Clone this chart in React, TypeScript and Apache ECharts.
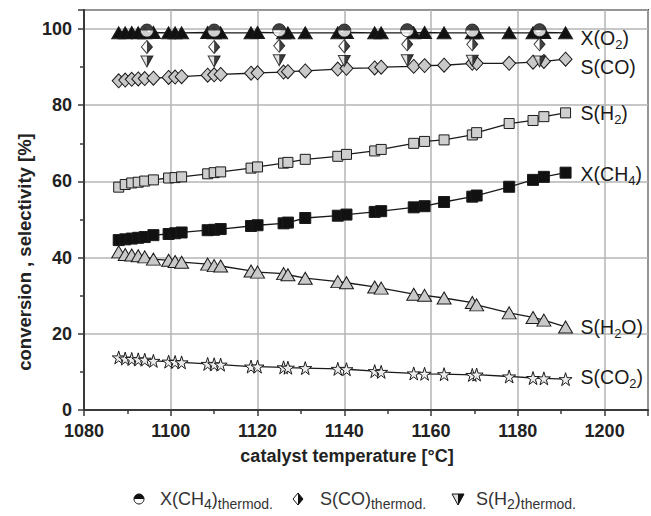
import React, { useEffect, useRef } from "react";
import * as echarts from "echarts";

const FONT = "'Liberation Sans', Arial, Helvetica, sans-serif";

const temps = [1088, 1089.5, 1091, 1092.5, 1094, 1096, 1099.5, 1101, 1102.5, 1108.5, 1110, 1111.5, 1118.5, 1120, 1126, 1127, 1131, 1138.5, 1140.5, 1147, 1148.5, 1156, 1158.5, 1163, 1169.5, 1170.5, 1178, 1183.5, 1186, 1191];

const xO2 = [99.0, 99.0, 99.1, 99.0, 99.0, 99.1, 99.0, 99.0, 99.0, 99.1, 99.0, 99.0, 99.0, 99.1, 99.0, 99.0, 99.0, 99.0, 99.1, 99.0, 99.0, 99.0, 99.1, 99.0, 99.0, 99.0, 99.0, 99.0, 99.1, 99.0];
const sCO = [86.4, 86.6, 86.8, 86.9, 87.0, 87.1, 87.3, 87.4, 87.5, 87.9, 88.0, 88.1, 88.4, 88.5, 88.7, 88.8, 89.0, 89.5, 89.7, 89.8, 90.0, 90.2, 90.4, 90.5, 91.0, 91.0, 91.0, 91.3, 91.5, 92.1];
const sH2 = [58.5, 59.2, 59.6, 59.8, 60.1, 60.4, 60.9, 61.0, 61.2, 62.0, 62.3, 62.5, 63.5, 63.8, 64.8, 65.0, 65.8, 66.6, 67.1, 68.0, 68.4, 70.0, 70.5, 70.9, 72.2, 72.8, 75.2, 76.0, 77.0, 78.0];
const xCH4 = [44.6, 44.8, 45.0, 45.2, 45.4, 45.9, 46.2, 46.4, 46.6, 47.2, 47.3, 47.5, 48.3, 48.5, 49.0, 49.2, 50.4, 51.0, 51.3, 52.0, 52.2, 53.2, 53.5, 54.6, 56.0, 56.3, 58.6, 60.4, 61.2, 62.3];
const sH2O = [41.5, 40.8, 40.7, 40.5, 40.2, 39.6, 39.3, 39.0, 38.8, 38.3, 37.9, 37.8, 36.5, 36.2, 35.8, 35.5, 34.6, 33.7, 33.4, 32.3, 32.0, 30.4, 30.1, 29.4, 28.2, 27.6, 25.5, 24.3, 23.6, 21.8];
const sCO2 = [13.8, 13.5, 13.4, 13.3, 13.2, 12.9, 12.7, 12.6, 12.5, 12.1, 12.0, 11.9, 11.4, 11.4, 11.2, 11.1, 11.0, 10.8, 10.7, 10.2, 10.0, 9.6, 9.5, 9.4, 9.2, 9.3, 8.8, 8.4, 8.3, 8.1];

const thermTemps = [1094.5, 1110, 1125, 1140, 1154.5, 1169.5, 1185];
const xCH4Therm = [99.6, 99.6, 99.7, 99.6, 99.7, 99.6, 99.7];
const sCOTherm = [95.3, 95.3, 95.6, 95.5, 96.0, 96.0, 96.0];
const sH2Therm = [91.5, 91.5, 91.8, 91.6, 91.8, 91.7, 91.5];

const xTicks = [1080, 1100, 1120, 1140, 1160, 1180, 1200];
const yTicks = [0, 20, 40, 60, 80, 100];

const STAR = "path://M50,0 L61,35 L98,35 L68,57 L79,91 L50,70 L21,91 L32,57 L2,35 L39,35 Z";
const HALF_TOP = "path://M0,1 A1,1 0 0 1 2,1 Z";
const HALF_RIGHT_DIAMOND = "path://M0,0 L1,1 L0,2 Z";
const DOWN_TRI = "path://M0,0 L2,0 L1,2 Z";
const HALF_RIGHT_DOWN_TRI = "path://M0,0 L1,0 L0,2 Z";

const pair = (xs: number[], ys: number[]) => xs.map((x, i) => [x, ys[i]]);

const richLabel = {
  a: { fontSize: 19.5, lineHeight: 26, color: "#1a1a1a", fontFamily: FONT },
  s: { fontSize: 13, lineHeight: 12, verticalAlign: "bottom", color: "#1a1a1a", fontFamily: FONT },
};

const legendRich = {
  a: { fontSize: 18, lineHeight: 24, fill: "#333", fontFamily: FONT },
  s: { fontSize: 14, lineHeight: 14, verticalAlign: "bottom", fill: "#333", fontFamily: FONT },
};

export default function App() {
  const ref = useRef<HTMLDivElement>(null);
  useEffect(() => {
    if (!ref.current) return;
    const chart = echarts.init(ref.current, undefined, { renderer: "svg" });

    const lineSeries = (
      name: string,
      ys: number[],
      symbol: string,
      size: number | number[],
      fill: string,
      label: string,
      offset: number[]
    ) => ({
      name,
      type: "line",
      data: pair(temps, ys),
      symbol,
      symbolSize: size,
      showAllSymbol: true,
      itemStyle: { color: fill, borderColor: "#1a1a1a", borderWidth: 1 },
      lineStyle: { color: "#1a1a1a", width: 1.3 },
      z: 3,
      endLabel: {
        show: true,
        formatter: label,
        distance: 15,
        offset,
        rich: richLabel,
      },
    });

    const LY = 499;

    chart.setOption({
      animation: false,
      textStyle: { fontFamily: FONT },
      grid: {
        left: 84,
        top: 10,
        width: 568,
        height: 400,
        show: true,
        borderColor: "#3a3a3a",
        borderWidth: 2,
        containLabel: false,
      },
      xAxis: {
        type: "value",
        min: 1080,
        max: 1210,
        interval: 20,
        axisLine: { show: true, onZero: false, lineStyle: { color: "#3a3a3a", width: 2 } },
        axisTick: { show: true, length: 6, lineStyle: { color: "#3a3a3a", width: 1.5 } },
        minorTick: { show: true, splitNumber: 2, length: 4, lineStyle: { color: "#3a3a3a", width: 1.5 } },
        splitLine: { show: true, lineStyle: { color: "#b5b5b5", width: 1.5 } },
        axisLabel: {
          margin: 12,
          fontSize: 18,
          fontWeight: "bold",
          color: "#222",
          fontFamily: FONT,
          formatter: (v: number) => (xTicks.includes(v) ? String(v) : ""),
        },
      },
      yAxis: {
        type: "value",
        min: 0,
        max: 105,
        interval: 20,
        axisLine: { show: true, lineStyle: { color: "#3a3a3a", width: 2 } },
        axisTick: { show: true, length: 6, lineStyle: { color: "#3a3a3a", width: 1.5 } },
        minorTick: { show: true, splitNumber: 2, length: 4, lineStyle: { color: "#3a3a3a", width: 1.5 } },
        splitLine: { show: true, lineStyle: { color: "#b5b5b5", width: 1.5 } },
        axisLabel: {
          margin: 12,
          fontSize: 18,
          fontWeight: "bold",
          color: "#222",
          fontFamily: FONT,
          formatter: (v: number) => (yTicks.includes(v) ? String(v) : ""),
        },
      },
      graphic: [
        {
          type: "text",
          x: 24,
          y: 252,
          rotation: Math.PI / 2,
          style: {
            text: "conversion , selectivity [%]",
            font: `bold 18.5px ${FONT}`,
            fill: "#222",
            textAlign: "center",
            textVerticalAlign: "middle",
          },
        },
        {
          type: "text",
          x: 347,
          y: 456,
          style: {
            text: "catalyst temperature [°C]",
            font: `bold 18px ${FONT}`,
            fill: "#222",
            textAlign: "center",
            textVerticalAlign: "middle",
          },
        },
        // legend icons
        { type: "circle", shape: { cx: 139, cy: LY, r: 5 }, style: { fill: "#fff", stroke: "#111", lineWidth: 1 } },
        { type: "sector", shape: { cx: 139, cy: LY, r: 5, startAngle: Math.PI, endAngle: 2 * Math.PI }, style: { fill: "#111" } },
        { type: "polygon", shape: { points: [[298, LY - 6], [303, LY], [298, LY + 6], [293, LY]] }, style: { fill: "#fff", stroke: "#111", lineWidth: 1 } },
        { type: "polygon", shape: { points: [[298, LY - 6], [303, LY], [298, LY + 6]] }, style: { fill: "#111" } },
        { type: "polygon", shape: { points: [[452, LY - 5], [464, LY - 5], [458, LY + 6]] }, style: { fill: "#ddd", stroke: "#111", lineWidth: 1 } },
        { type: "polygon", shape: { points: [[458, LY - 5], [464, LY - 5], [458, LY + 6]] }, style: { fill: "#111" } },
        {
          type: "text",
          x: 160,
          y: LY,
          style: { text: "{a|X(CH}{s|4}{a|)}{s|thermod.}", textVerticalAlign: "middle", rich: legendRich },
        },
        {
          type: "text",
          x: 320,
          y: LY,
          style: { text: "{a|S(CO)}{s|thermod.}", textVerticalAlign: "middle", rich: legendRich },
        },
        {
          type: "text",
          x: 476,
          y: LY,
          style: { text: "{a|S(H}{s|2}{a|)}{s|thermod.}", textVerticalAlign: "middle", rich: legendRich },
        },
      ],
      series: [
        lineSeries("S(CO2)", sCO2, STAR, 13, "#ececec", "{a|S(CO}{s|2}{a|)}", [0, -2]),
        lineSeries("S(H2O)", sH2O, "triangle", [14, 12], "#c9c9c9", "{a|S(H}{s|2}{a|O)}", [0, 0]),
        lineSeries("X(CH4)", xCH4, "rect", 11, "#111111", "{a|X(CH}{s|4}{a|)}", [0, 1.5]),
        lineSeries("S(H2)", sH2, "rect", 10, "#cfcfcf", "{a|S(H}{s|2}{a|)}", [0, 0]),
        lineSeries("S(CO)", sCO, "diamond", [13, 14], "#c9c9c9", "{a|S(CO)}", [0, 7.5]),
        lineSeries("X(O2)", xO2, "triangle", [14, 12], "#111111", "{a|X(O}{s|2}{a|)}", [0, 5]),
        {
          name: "S(H2) thermod base",
          type: "scatter",
          data: pair(thermTemps, sH2Therm),
          symbol: DOWN_TRI,
          symbolSize: [12, 11],
          itemStyle: { color: "#dddddd", borderColor: "#111", borderWidth: 1 },
          z: 5,
        },
        {
          name: "S(H2) thermod half",
          type: "scatter",
          data: pair(thermTemps, sH2Therm),
          symbol: HALF_RIGHT_DOWN_TRI,
          symbolSize: [6, 11],
          symbolOffset: [3, 0],
          itemStyle: { color: "#111" },
          z: 6,
        },
        {
          name: "S(CO) thermod base",
          type: "scatter",
          data: pair(thermTemps, sCOTherm),
          symbol: "diamond",
          symbolSize: [11, 13],
          itemStyle: { color: "#ffffff", borderColor: "#111", borderWidth: 1 },
          z: 5,
        },
        {
          name: "S(CO) thermod half",
          type: "scatter",
          data: pair(thermTemps, sCOTherm),
          symbol: HALF_RIGHT_DIAMOND,
          symbolSize: [5.5, 13],
          symbolOffset: [2.75, 0],
          itemStyle: { color: "#111" },
          z: 6,
        },
        {
          name: "X(CH4) thermod base",
          type: "scatter",
          data: pair(thermTemps, xCH4Therm),
          symbol: "circle",
          symbolSize: 13,
          itemStyle: { color: "#ffffff", borderColor: "#111", borderWidth: 1 },
          z: 5,
        },
        {
          name: "X(CH4) thermod half",
          type: "scatter",
          data: pair(thermTemps, xCH4Therm),
          symbol: HALF_TOP,
          symbolSize: [13, 6.5],
          symbolOffset: [0, -3.25],
          itemStyle: { color: "#111" },
          z: 6,
        },
      ],
    });
    return () => chart.dispose();
  }, []);

  return (
    <div
      ref={ref}
      style={{ position: "absolute", left: 0, top: 0, width: 651, height: 516, background: "#fff" }}
    />
  );
}
